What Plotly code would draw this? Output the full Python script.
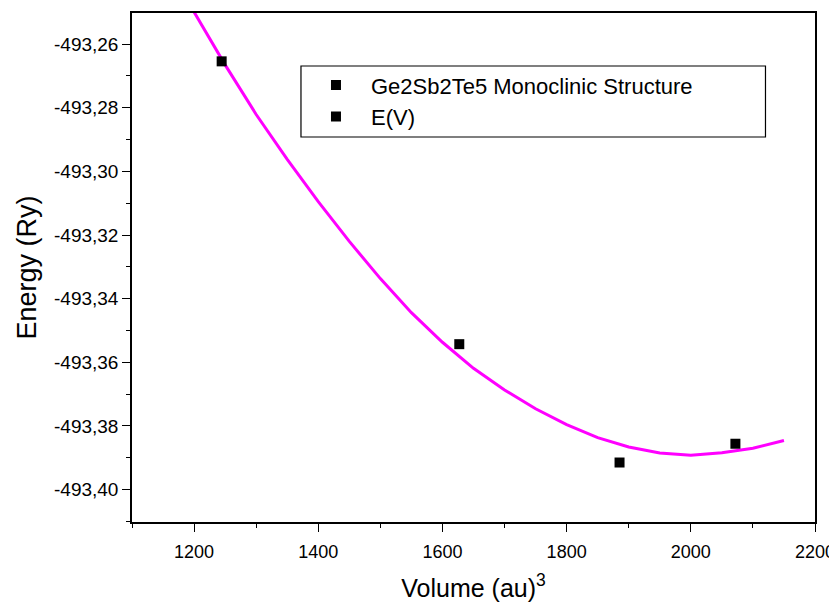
import plotly.graph_objects as go

# Data points (Volume in au^3, Energy in Ry)
vol_points = [1244.4, 1627.1, 1885.2, 2071.8]
energy_points = [-493.2654, -493.3543, -493.3915, -493.3856]

# Fitted E(V) curve
vol_fit = [1200, 1250, 1300, 1350, 1400, 1450, 1500, 1550, 1600, 1650, 1700,
           1750, 1800, 1850, 1900, 1950, 2000, 2050, 2100, 2150]
energy_fit = [-493.2499, -493.2665, -493.2821, -493.2962, -493.3095, -493.3220,
              -493.3337, -493.3444, -493.3537, -493.3619, -493.3687, -493.3746,
              -493.3796, -493.3837, -493.3866, -493.3885, -493.3892, -493.3884,
              -493.3870, -493.3846]

x_tickvals = [1200, 1400, 1600, 1800, 2000, 2200]
x_ticktext = ["1200", "1400", "1600", "1800", "2000", "2200"]
y_tickvals = [-493.26, -493.28, -493.30, -493.32, -493.34, -493.36, -493.38, -493.40]
y_ticktext = ["-493,26", "-493,28", "-493,30", "-493,32", "-493,34", "-493,36", "-493,38", "-493,40"]

FONT = "Liberation Sans, Arial, sans-serif"

fig = go.Figure()
fig.add_trace(go.Scatter(
    x=vol_fit, y=energy_fit, mode="lines",
    line=dict(color="#FF00FF", width=3), showlegend=False, name="fit"))
fig.add_trace(go.Scatter(
    x=vol_points, y=energy_points, mode="markers",
    marker=dict(symbol="square", size=10, color="black"),
    name="Ge2Sb2Te5 Monoclinic Structure"))
fig.add_trace(go.Scatter(
    x=[None], y=[None], mode="markers",
    marker=dict(symbol="square", size=10, color="black"),
    name="E(V)"))

axis_common = dict(
    showline=True, linecolor="black", linewidth=1.5, mirror=True,
    ticks="outside", ticklen=8, tickwidth=1.2, tickcolor="black",
    showgrid=False, zeroline=False, automargin=False,
)

# legend frame (drawn as a layout rectangle so it matches the original box size)
fig.add_shape(type="rect", xref="paper", yref="paper",
              x0=0.2474, x1=0.9275, y0=0.7564, y1=0.8959,
              line=dict(color="black", width=1.2), fillcolor="white", layer="above")

fig.update_layout(
    width=837, height=606,
    margin=dict(l=124, r=30, t=5, b=92),
    paper_bgcolor="white", plot_bgcolor="white",
    font=dict(family=FONT, color="black"),
    xaxis=dict(
        range=[1100, 2200], tickvals=x_tickvals, ticktext=x_ticktext,
        minor=dict(dtick=100, tick0=1100, ticks="outside", ticklen=4, tickcolor="black", showgrid=False),
        title=dict(text="Volume (au)<sup>3</sup>", font=dict(family=FONT, size=25), standoff=18),
        ticklabelstandoff=5,
        tickfont=dict(family=FONT, size=18, color="black"),
        **axis_common),
    yaxis=dict(
        range=[-493.4102, -493.2502], tickvals=y_tickvals, ticktext=y_ticktext,
        minor=dict(dtick=0.01, tick0=-493.41, ticks="outside", ticklen=4, tickcolor="black", showgrid=False),
        title=dict(text="Energy (Ry)", font=dict(family=FONT, size=27), standoff=10),
        tickfont=dict(family=FONT, size=19, color="black"),
        **axis_common),
    legend=dict(
        x=0.2474, y=0.8995, xanchor="left", yanchor="top",
        bgcolor="rgba(0,0,0,0)", borderwidth=0,
        font=dict(family=FONT, size=22, color="black"),
        itemwidth=60, tracegroupgap=0,
    ),
)

fig.write_html("out.html")
